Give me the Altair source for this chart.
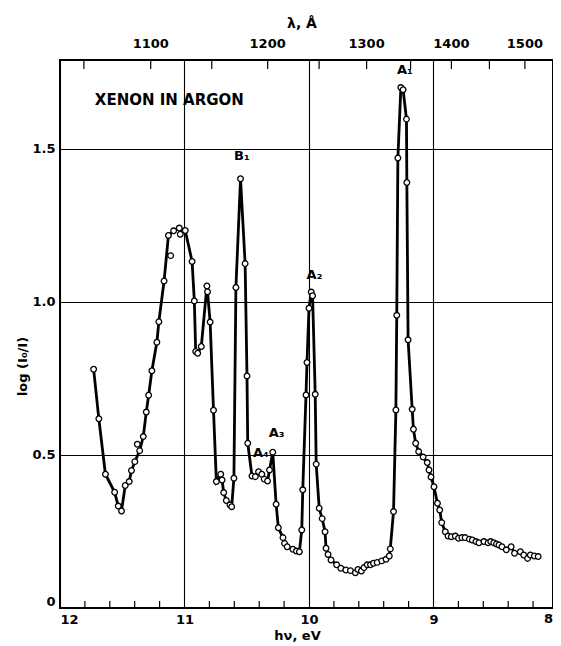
import altair as alt
import pandas as pd

# ---- data ----
energy = [11.730, 11.688, 11.635, 11.561, 11.532, 11.506, 11.476, 11.444, 11.426, 11.399,
          11.360, 11.331, 11.307, 11.288, 11.262, 11.222, 11.206, 11.164, 11.129, 11.087,
          11.042, 10.994, 10.939, 10.921, 10.910, 10.894, 10.865, 10.820, 10.815, 10.794,
          10.767, 10.744, 10.709, 10.698, 10.685, 10.664, 10.635, 10.621, 10.603, 10.587,
          10.550, 10.513, 10.498, 10.492, 10.458, 10.431, 10.405, 10.379, 10.360, 10.333,
          10.317, 10.291, 10.264, 10.246, 10.209, 10.196, 10.175, 10.129, 10.101, 10.077,
          10.058, 10.050, 10.024, 10.016, 10.000, 9.982, 9.971, 9.950, 9.942, 9.918,
          9.894, 9.871, 9.863, 9.847, 9.823, 9.778, 9.744, 9.704, 9.667, 9.627,
          9.606, 9.579, 9.558, 9.532, 9.506, 9.482, 9.452, 9.415, 9.381, 9.355,
          9.347, 9.321, 9.302, 9.295, 9.286, 9.262, 9.244, 9.217, 9.214, 9.204,
          9.171, 9.161, 9.143, 9.119, 9.083, 9.050, 9.036, 9.020, 8.996, 8.968,
          8.950, 8.934, 8.905, 8.883, 8.857, 8.825, 8.799, 8.772, 8.746, 8.712,
          8.688, 8.659, 8.635, 8.595, 8.561, 8.540, 8.516, 8.494, 8.474, 8.450,
          8.415, 8.376, 8.349, 8.302, 8.275, 8.244, 8.222, 8.190, 8.159]
absorb = [0.780, 0.618, 0.437, 0.378, 0.333, 0.317, 0.400, 0.413, 0.449, 0.478,
          0.514, 0.560, 0.640, 0.695, 0.775, 0.868, 0.935, 1.068, 1.217, 1.232,
          1.241, 1.233, 1.132, 1.003, 0.838, 0.832, 0.854, 1.052, 1.033, 0.934,
          0.646, 0.413, 0.437, 0.418, 0.377, 0.351, 0.337, 0.331, 0.424, 1.047,
          1.402, 1.125, 0.758, 0.538, 0.431, 0.429, 0.445, 0.437, 0.421, 0.415,
          0.451, 0.509, 0.339, 0.262, 0.230, 0.211, 0.200, 0.192, 0.186, 0.184,
          0.255, 0.386, 0.696, 0.802, 0.979, 1.032, 1.020, 0.698, 0.470, 0.326,
          0.292, 0.249, 0.195, 0.175, 0.157, 0.141, 0.130, 0.124, 0.122, 0.115,
          0.126, 0.121, 0.132, 0.141, 0.141, 0.146, 0.149, 0.154, 0.159, 0.170,
          0.193, 0.315, 0.647, 0.956, 1.470, 1.700, 1.693, 1.597, 1.390, 0.876,
          0.649, 0.584, 0.538, 0.511, 0.493, 0.475, 0.451, 0.428, 0.396, 0.342,
          0.320, 0.279, 0.249, 0.235, 0.233, 0.235, 0.228, 0.230, 0.230, 0.225,
          0.222, 0.217, 0.213, 0.217, 0.213, 0.217, 0.213, 0.209, 0.206, 0.200,
          0.190, 0.200, 0.179, 0.184, 0.173, 0.162, 0.173, 0.170, 0.168]

# measured points lying slightly off the drawn curve
extra_energy = [11.379, 11.111, 11.034]
extra_absorb = [0.535, 1.151, 1.221]

x_ticks = [12, 11, 10, 9, 8]
edge_label = ["8"]
minor_ticks = [11.8, 11.6, 11.4, 11.2, 10.8, 10.6, 10.4, 10.2,
               9.8, 9.6, 9.4, 9.2, 8.8, 8.6, 8.4, 8.2]
y_ticks = [0, 0.5, 1.0, 1.5]
wl_ticks = [1050, 1100, 1150, 1200, 1250, 1300, 1350, 1400, 1450, 1500]
wl_labels = [1100, 1200, 1300, 1400, 1500]

peak_text = ["B\u2081", "A\u2082", "A\u2083", "A\u2084", "A\u2081"]
peak_E = [10.539, 9.956, 10.260, 10.387, 9.230]
peak_v = [1.476, 1.088, 0.572, 0.506, 1.757]

note_text = ["XENON IN ARGON"]
note_E = [11.72]
note_v = [1.66]

# ---- chart ----
W, H = 493, 548
FONT = "DejaVu Sans"
xs = alt.Scale(domain=[8.04, 12], reverse=True, nice=False, zero=False)
ys = alt.Scale(domain=[0, 1.79], nice=False, zero=False)

curve_df = pd.DataFrame({"E": energy, "v": absorb, "idx": list(range(len(energy)))})
pts_df = pd.DataFrame({"E": energy + extra_energy, "v": absorb + extra_absorb})

x_axis = alt.Axis(values=x_ticks, format="d", grid=True, gridColor="black",
                  gridWidth=1.1, gridOpacity=1, tickSize=0, domain=False,
                  labelFlush=True, labelFont=FONT, labelFontWeight="bold",
                  labelFontSize=13, labelColor="black", labelPadding=5,
                  title="h\u03bd, eV", titleFont=FONT, titleFontWeight="bold",
                  titleFontSize=13, titleColor="black", titleX=237, titleY=31,
                  titleAlign="center", titleBaseline="alphabetic")
y_axis = alt.Axis(values=y_ticks,
                  labelExpr="datum.value == 0 ? '0' : format(datum.value, '.1f')",
                  grid=True, gridColor="black", gridWidth=1.1, gridOpacity=1,
                  tickSize=0, domain=False, labelFlush=True, labelFont=FONT,
                  labelFontWeight="bold", labelFontSize=13, labelColor="black",
                  labelPadding=5,
                  title="log (I\u2080/I)", titleFont=FONT, titleFontWeight="bold",
                  titleFontSize=13, titleColor="black", titleX=-38, titleY=306,
                  titleAngle=270, titleAlign="center", titleBaseline="middle")

X = alt.X("E:Q", scale=xs, axis=x_axis)
Y = alt.Y("v:Q", scale=ys, axis=y_axis)

curve = alt.Chart(curve_df).mark_line(color="black", strokeWidth=2.8).encode(
    x=X, y=Y, order=alt.Order("idx:Q"),
)

points = alt.Chart(pts_df).mark_point(shape="circle", filled=True, fill="white",
                                      stroke="black", strokeWidth=1.3, size=32,
                                      opacity=1).encode(x=X, y=Y)

minor = alt.Chart(pd.DataFrame({"E": minor_ticks})).mark_rule(
    color="black", strokeWidth=1.2).encode(
    x=X, y=alt.value(H), y2=alt.value(H - 7),
)

top_ticks = alt.Chart(pd.DataFrame({"wl": wl_ticks})).transform_calculate(
    E="12398.4 / datum.wl").mark_rule(color="black", strokeWidth=1.2).encode(
    x=X, y=alt.value(0), y2=alt.value(9),
)

top_labels = alt.Chart(pd.DataFrame({"wl": wl_labels})).transform_calculate(
    E="12398.4 / datum.wl").mark_text(font=FONT, fontWeight="bold", fontSize=13,
                                       color="black", baseline="alphabetic").encode(
    x=X, y=alt.value(-12),
    text=alt.Text("wl:Q", format="d"),
)

top_title = alt.Chart(pd.DataFrame({"t": ["\u03bb, \u00c5"]})).mark_text(
    font=FONT, fontWeight="bold", fontSize=14, color="black",
    baseline="alphabetic").encode(
    x=alt.value(242), y=alt.value(-32), text="t:N")

# the last bottom label sits at the very edge of the frame
edge = alt.Chart(pd.DataFrame({"t": edge_label})).mark_text(
    font=FONT, fontWeight="bold", fontSize=13, color="black",
    align="right", baseline="top").encode(
    x=alt.value(W), y=alt.value(H + 5), text="t:N")

peaks = alt.Chart(pd.DataFrame({"E": peak_E, "v": peak_v, "t": peak_text})).mark_text(
    font=FONT, fontWeight="bold", fontSize=13, color="black", baseline="middle").encode(
    x=X, y=Y, text="t:N",
)

note = alt.Chart(pd.DataFrame({"E": note_E, "v": note_v, "t": note_text})).mark_text(
    font=FONT, fontWeight="bold", fontSize=15, color="black", align="left",
    baseline="middle").encode(
    x=X, y=Y, text="t:N",
)

chart = alt.layer(curve, minor, top_ticks, top_labels, top_title, edge, points, peaks, note).properties(
    width=W, height=H,
    padding={"left": 52, "top": 52, "right": 0, "bottom": 34},
    autosize=alt.AutoSizeParams(type="none"),
    background="white",
).configure_view(stroke="black", strokeWidth=2)

chart.save("out.html", embed_options={"renderer": "svg", "actions": False})
